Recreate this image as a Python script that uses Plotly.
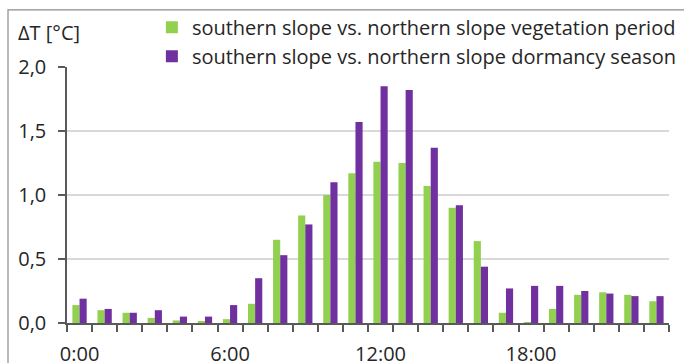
import plotly.graph_objects as go

hours = list(range(24))
hour_labels = ["0:00", "6:00", "12:00", "18:00"]
label_positions = [0, 6, 12, 18]

vegetation = [0.14, 0.10, 0.08, 0.04, 0.02, 0.01, 0.03, 0.15, 0.65, 0.84, 1.00, 1.17,
              1.26, 1.25, 1.07, 0.90, 0.64, 0.08, 0.005, 0.11, 0.22, 0.24, 0.22, 0.17]
dormancy = [0.19, 0.11, 0.08, 0.10, 0.05, 0.05, 0.14, 0.35, 0.53, 0.77, 1.10, 1.57,
            1.85, 1.82, 1.37, 0.92, 0.44, 0.27, 0.29, 0.29, 0.25, 0.23, 0.21, 0.21]

names = ["southern slope vs. northern slope vegetation period",
         "southern slope vs. northern slope dormancy season"]
colors = ["#92D050", "#7030A0"]

FONT = "Open Sans"
FS = 20
TXT = "#262626"
AX = "#595959"

fig = go.Figure()
fig.add_trace(go.Bar(x=hours, y=vegetation, name=names[0], marker_color=colors[0],
                     marker_line_width=0, legendgroup="a"))
fig.add_trace(go.Bar(x=hours, y=dormancy, name=names[1], marker_color=colors[1],
                     marker_line_width=0, legendgroup="b"))

fig.update_layout(
    width=684, height=363,
    margin=dict(l=67, r=15, t=67, b=40, autoexpand=False),
    paper_bgcolor="white", plot_bgcolor="white",
    barmode="group", bargap=0.43, bargroupgap=0,
    separators=",.",
    font=dict(family=FONT, size=FS, color=TXT),
    showlegend=True,
    legend=dict(x=0.141, y=1.231, xanchor="left", yanchor="top",
                bgcolor="rgba(0,0,0,0)", tracegroupgap=0,
                font=dict(family=FONT, size=FS, color=TXT)),
    xaxis=dict(range=[-0.5, 23.5], tickmode="array", tickvals=label_positions,
               ticktext=hour_labels, ticks="", showgrid=False, zeroline=False,
               showline=True, linecolor=AX, linewidth=1.5, automargin=False,
               ticklabelstandoff=12,
               minor=dict(tick0=-0.5, dtick=1, ticks="outside", ticklen=7,
                          tickcolor=AX, tickwidth=1.5, showgrid=False),
               tickfont=dict(family=FONT, size=FS, color=TXT)),
    yaxis=dict(range=[0, 2.0], dtick=0.5, tickformat=".1f", ticks="outside",
               ticklen=7, tickcolor=AX, tickwidth=1.5, showline=True, linecolor=AX,
               linewidth=1.5, showgrid=True, gridcolor="#d9d9d9", gridwidth=1.5,
               zeroline=False, ticklabelstandoff=8, automargin=False,
               tickfont=dict(family=FONT, size=FS, color=TXT)),
    annotations=[dict(text="ΔT [°C]", xref="paper", yref="paper", x=-0.084, y=1.133,
                      xanchor="left", yanchor="middle", showarrow=False,
                      font=dict(family=FONT, size=FS, color=TXT))],
    shapes=[dict(type="rect", xref="paper", yref="paper", x0=-0.098, x1=1.1,
                 y0=-0.3, y1=1.223, line=dict(color="#8c8c8c", width=1.2),
                 fillcolor="rgba(0,0,0,0)", layer="below")],
)

fig.write_html("out.html")
